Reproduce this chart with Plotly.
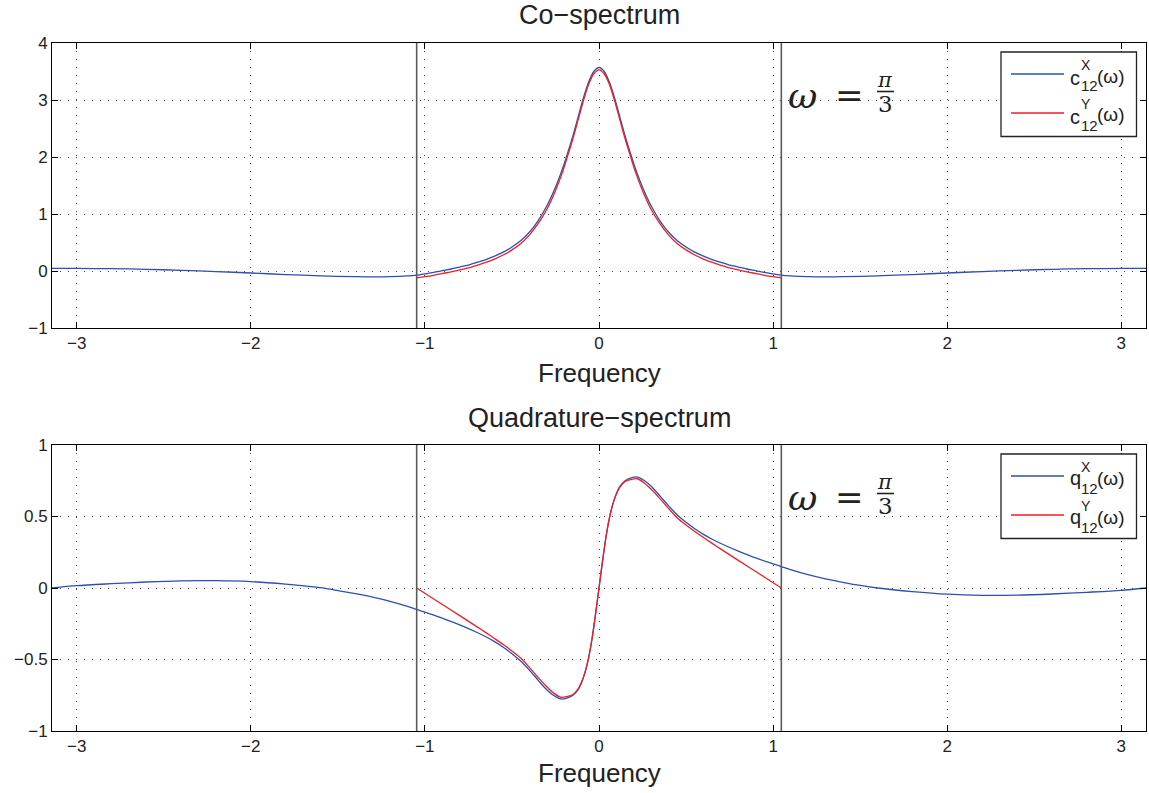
import math
import plotly.graph_objects as go

# ---------------- data ----------------
PI = math.pi
omega_mark = PI / 3

# Co-spectrum, X process (full range)
co_x_freq = [-3.1416, -3.0, -2.8, -2.6, -2.4, -2.2, -2.0, -1.8, -1.6, -1.4, -1.3, -1.2, -1.1,
             -1.047, -1.0, -0.95, -0.9, -0.85, -0.8, -0.75, -0.7, -0.65, -0.6, -0.55, -0.5,
             -0.45, -0.4, -0.35, -0.3, -0.25, -0.21, -0.18, -0.15, -0.12, -0.09, -0.06, -0.03,
             0.0, 0.03, 0.06, 0.09, 0.12, 0.15, 0.18, 0.21, 0.25, 0.3, 0.35, 0.4, 0.45, 0.5,
             0.55, 0.6, 0.65, 0.7, 0.75, 0.8, 0.85, 0.9, 0.95, 1.0, 1.047, 1.1, 1.2, 1.3, 1.4,
             1.6, 1.8, 2.0, 2.2, 2.4, 2.6, 2.8, 3.0, 3.1416]
co_x_val = [0.045, 0.045, 0.04, 0.03, 0.012, -0.01, -0.035, -0.062, -0.085, -0.1, -0.104, -0.1, -0.086,
            -0.072, -0.05, -0.025, 0.005, 0.035, 0.07, 0.105, 0.15, 0.2, 0.26, 0.33, 0.42,
            0.53, 0.68, 0.88, 1.14, 1.47, 1.79, 2.07, 2.37, 2.70, 3.03, 3.31, 3.50,
            3.57, 3.50, 3.31, 3.03, 2.70, 2.37, 2.07, 1.79, 1.47, 1.14, 0.88, 0.68, 0.53, 0.42,
            0.33, 0.26, 0.2, 0.15, 0.105, 0.07, 0.035, 0.005, -0.025, -0.05, -0.072, -0.086, -0.1,
            -0.104, -0.1, -0.085, -0.062, -0.035, -0.01, 0.012, 0.03, 0.04, 0.045, 0.045]

# Co-spectrum, Y process (only on [-pi/3, pi/3])
co_y_freq = [-1.047, -1.0, -0.95, -0.9, -0.85, -0.8, -0.75, -0.7, -0.65, -0.6, -0.55, -0.5,
             -0.45, -0.4, -0.35, -0.3, -0.25, -0.21, -0.18, -0.15, -0.12, -0.09, -0.06, -0.03,
             0.0, 0.03, 0.06, 0.09, 0.12, 0.15, 0.18, 0.21, 0.25, 0.3, 0.35, 0.4, 0.45, 0.5,
             0.55, 0.6, 0.65, 0.7, 0.75, 0.8, 0.85, 0.9, 0.95, 1.0, 1.047]
co_y_val = [-0.12, -0.1, -0.075, -0.045, -0.015, 0.02, 0.055, 0.1, 0.15, 0.21, 0.28, 0.37,
            0.48, 0.63, 0.83, 1.08, 1.41, 1.73, 2.02, 2.32, 2.65, 2.98, 3.27, 3.46,
            3.53, 3.46, 3.27, 2.98, 2.65, 2.32, 2.02, 1.73, 1.41, 1.08, 0.83, 0.63, 0.48, 0.37,
            0.28, 0.21, 0.15, 0.1, 0.055, 0.02, -0.015, -0.045, -0.075, -0.1, -0.12]

# Quadrature-spectrum, X process (full range)
q_x_freq = [-3.1416, -3.0, -2.8, -2.6, -2.4, -2.2, -2.0, -1.8, -1.6, -1.5, -1.4, -1.3, -1.2,
            -1.1, -1.047, -1.0, -0.9, -0.8, -0.7, -0.65, -0.6, -0.55, -0.5, -0.45, -0.4, -0.35,
            -0.3, -0.26, -0.22, -0.18, -0.15, -0.12, -0.1, -0.08, -0.06, -0.04, -0.02, 0.0,
            0.02, 0.04, 0.06, 0.08, 0.1, 0.12, 0.15, 0.18, 0.22, 0.26, 0.3, 0.35, 0.4, 0.45,
            0.5, 0.55, 0.6, 0.65, 0.7, 0.8, 0.9, 1.0, 1.047, 1.1, 1.2, 1.3, 1.4, 1.5, 1.6, 1.8,
            2.0, 2.2, 2.4, 2.6, 2.8, 3.0, 3.1416]
q_x_val = [0.0, 0.016, 0.03, 0.042, 0.05, 0.051, 0.045, 0.027, 0.002, -0.018, -0.04, -0.064, -0.093,
           -0.128, -0.15, -0.169, -0.21, -0.258, -0.311, -0.341, -0.375, -0.414, -0.459, -0.511,
           -0.574, -0.644, -0.712, -0.752, -0.776, -0.768, -0.75, -0.71, -0.66, -0.59, -0.49, -0.355,
           -0.185, 0.0, 0.185, 0.355, 0.49, 0.59, 0.66, 0.71, 0.75, 0.768, 0.776, 0.752, 0.712, 0.644,
           0.574, 0.511, 0.459, 0.414, 0.375, 0.341, 0.311, 0.258, 0.21, 0.169, 0.15, 0.128, 0.093,
           0.064, 0.04, 0.018, 0.0, -0.025, -0.043, -0.051, -0.05, -0.042, -0.03, -0.016, 0.0]

# Quadrature-spectrum, Y process (only on [-pi/3, pi/3])
q_y_freq = [-1.047, -1.0, -0.9, -0.8, -0.7, -0.65, -0.6, -0.55, -0.5, -0.45, -0.4, -0.35, -0.3,
            -0.26, -0.22, -0.18, -0.15, -0.12, -0.1, -0.08, -0.06, -0.04, -0.02, 0.0, 0.02, 0.04,
            0.06, 0.08, 0.1, 0.12, 0.15, 0.18, 0.22, 0.26, 0.3, 0.35, 0.4, 0.45, 0.5, 0.55, 0.6,
            0.65, 0.7, 0.8, 0.9, 1.0, 1.047]
q_y_val = [0.0, -0.037, -0.115, -0.193, -0.272, -0.312, -0.353, -0.395, -0.44, -0.49, -0.555,
           -0.625, -0.69, -0.735, -0.764, -0.758, -0.745, -0.705, -0.657, -0.588, -0.49, -0.355,
           -0.185, 0.0, 0.185, 0.355, 0.49, 0.588, 0.657, 0.705, 0.745, 0.758, 0.764, 0.735, 0.69,
           0.625, 0.555, 0.49, 0.44, 0.395, 0.353, 0.312, 0.272, 0.193, 0.115, 0.037, 0.0]

x_ticks = [-3, -2, -1, 0, 1, 2, 3]
x_tick_text = ["\u22123", "\u22122", "\u22121", "0", "1", "2", "3"]
co_y_ticks = [-1, 0, 1, 2, 3, 4]
co_y_tick_text = ["\u22121", "0", "1", "2", "3", "4"]
q_y_ticks = [-1, -0.5, 0, 0.5, 1]
q_y_tick_text = ["\u22121", "\u22120.5", "0", "0.5", "1"]

# ---------------- styling / layout ----------------
W, H = 1149, 793
BLUE = "#2d4fae"
RED = "#f21d24"
TXT = "#222222"
FONT = "Liberation Sans, Arial, sans-serif"
SERIF = "DejaVu Serif, Liberation Serif, serif"


def px(x):
    return x / W


def py(y):
    return 1 - y / H


fig = go.Figure()
line_shape = dict(width=1.3, shape="spline", smoothing=0.8)
fig.add_trace(go.Scatter(x=co_x_freq, y=co_x_val, mode="lines", name="c12X",
                         line=dict(color=BLUE, **line_shape), xaxis="x", yaxis="y"))
fig.add_trace(go.Scatter(x=co_y_freq, y=co_y_val, mode="lines", name="c12Y",
                         line=dict(color=RED, **line_shape), xaxis="x", yaxis="y"))
fig.add_trace(go.Scatter(x=q_x_freq, y=q_x_val, mode="lines", name="q12X",
                         line=dict(color=BLUE, **line_shape), xaxis="x2", yaxis="y2"))
fig.add_trace(go.Scatter(x=q_y_freq, y=q_y_val, mode="lines", name="q12Y",
                         line=dict(color=RED, **line_shape), xaxis="x2", yaxis="y2"))

xdom = [px(52), px(1146)]
top_dom = [py(328), py(43)]
bot_dom = [py(731), py(445)]

axis_common = dict(
    showline=True, linecolor="#000000", linewidth=1, mirror="ticks",
    ticks="inside", ticklen=6, tickcolor="#000000",
    showgrid=True, gridcolor="#444444", gridwidth=1, griddash="1px,7px",
    zeroline=False, tickfont=dict(family=FONT, size=17, color=TXT),
    automargin=False,
)

fig.update_layout(
    width=W, height=H,
    margin=dict(l=0, r=0, t=0, b=0),
    paper_bgcolor="white", plot_bgcolor="white",
    showlegend=False,
    xaxis=dict(domain=xdom, anchor="y", range=[-PI, PI], tickvals=x_ticks,
               ticktext=x_tick_text, **axis_common),
    yaxis=dict(domain=top_dom, anchor="x", range=[-1, 4], tickvals=co_y_ticks,
               ticktext=co_y_tick_text, **axis_common),
    xaxis2=dict(domain=xdom, anchor="y2", range=[-PI, PI], tickvals=x_ticks,
                ticktext=x_tick_text, **axis_common),
    yaxis2=dict(domain=bot_dom, anchor="x2", range=[-1, 1], tickvals=q_y_ticks,
                ticktext=q_y_tick_text, **axis_common),
)

shapes = []
annotations = []

# vertical markers at +/- pi/3
for xr, yr in (("x", "y domain"), ("x2", "y2 domain")):
    for sgn in (-1, 1):
        shapes.append(dict(type="line", xref=xr, yref=yr, x0=sgn * omega_mark,
                           x1=sgn * omega_mark, y0=0, y1=1,
                           line=dict(color="#5a5a5a", width=1.6)))

# titles and axis labels
for text, yc in (("Co\u2212spectrum", 15), ("Quadrature\u2212spectrum", 418)):
    annotations.append(dict(text=text, x=px(599), y=py(yc), xref="paper", yref="paper",
                            showarrow=False, xanchor="center", yanchor="middle",
                            font=dict(family=FONT, size=27, color=TXT)))
for yc in (373, 773):
    annotations.append(dict(text="Frequency", x=px(599), y=py(yc), xref="paper", yref="paper",
                            showarrow=False, xanchor="center", yanchor="middle",
                            font=dict(family=FONT, size=26, color=TXT)))

# omega = pi/3 labels
for dy in (0, 402):
    annotations.append(dict(text="<i>\u03c9</i>", x=px(802), y=py(96 + dy), xref="paper",
                            yref="paper", showarrow=False, xanchor="center", yanchor="middle",
                            font=dict(family=SERIF, size=36, color=TXT)))
    annotations.append(dict(text="=", x=px(849), y=py(95 + dy), xref="paper",
                            yref="paper", showarrow=False, xanchor="center", yanchor="middle",
                            font=dict(family=SERIF, size=34, color=TXT)))
    annotations.append(dict(text="<i>\u03c0</i>", x=px(885.5), y=py(80 + dy), xref="paper",
                            yref="paper", showarrow=False, xanchor="center", yanchor="middle",
                            font=dict(family=SERIF, size=21, color=TXT)))
    annotations.append(dict(text="3", x=px(885.5), y=py(104 + dy), xref="paper",
                            yref="paper", showarrow=False, xanchor="center", yanchor="middle",
                            font=dict(family=SERIF, size=23, color=TXT)))
    shapes.append(dict(type="line", xref="paper", yref="paper", x0=px(877), x1=px(894),
                       y0=py(91.5 + dy), y1=py(91.5 + dy), line=dict(color=TXT, width=1.6)))

# custom legends (stacked super/subscripts)
for top, letter, dy_txt in ((52, "c", 4), (454, "q", 2)):
    shapes.append(dict(type="rect", xref="paper", yref="paper", x0=px(1001), x1=px(1136.5),
                       y0=py(top), y1=py(top + 84.5), fillcolor="white",
                       line=dict(color="#222222", width=1.3)))
    for i, (sup, col) in enumerate((("X", BLUE), ("Y", RED))):
        ly = top + 22 + 39 * i
        shapes.append(dict(type="line", xref="paper", yref="paper", x0=px(1011), x1=px(1064),
                           y0=py(ly), y1=py(ly), line=dict(color=col, width=1.3)))
        annotations.append(dict(text=letter, x=px(1075), y=py(ly + dy_txt), xref="paper",
                                yref="paper", showarrow=False, xanchor="center",
                                yanchor="middle", font=dict(family=FONT, size=20, color=TXT)))
        annotations.append(dict(text=sup, x=px(1086), y=py(ly - 9), xref="paper",
                                yref="paper", showarrow=False, xanchor="center",
                                yanchor="middle", font=dict(family=FONT, size=14, color=TXT)))
        annotations.append(dict(text="12", x=px(1089.5), y=py(ly + 12), xref="paper",
                                yref="paper", showarrow=False, xanchor="center",
                                yanchor="middle", font=dict(family=FONT, size=15, color=TXT)))
        annotations.append(dict(text="(\u03c9)", x=px(1110.5), y=py(ly + 2), xref="paper",
                                yref="paper", showarrow=False, xanchor="center",
                                yanchor="middle", font=dict(family=FONT, size=19, color=TXT)))

fig.update_layout(shapes=shapes, annotations=annotations)
fig.write_html("out.html")
